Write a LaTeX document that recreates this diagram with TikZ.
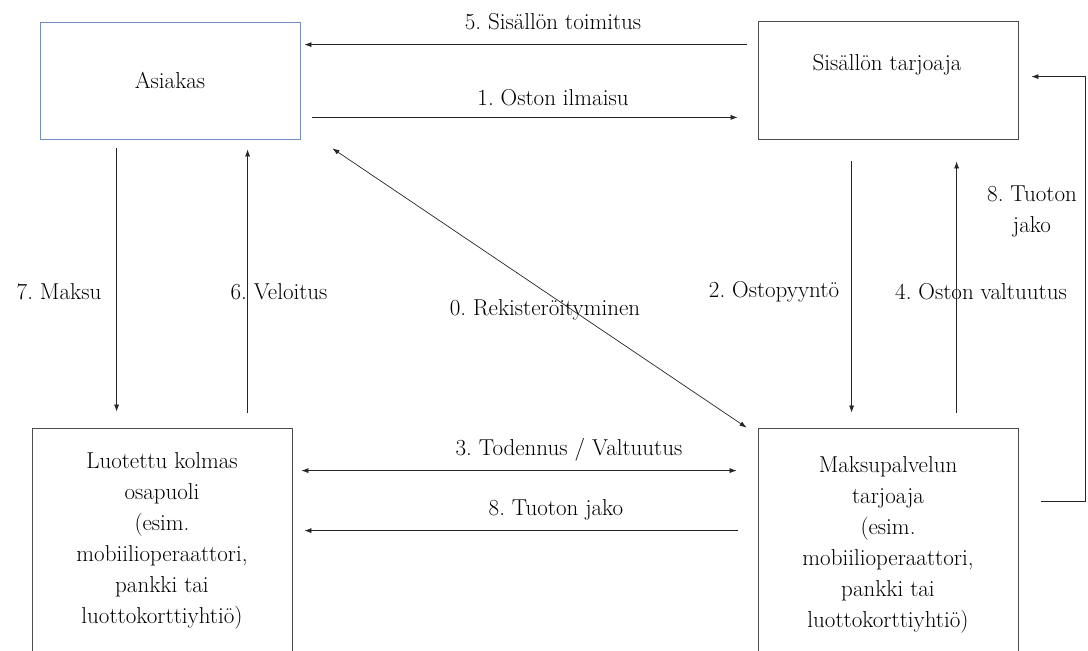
\documentclass[tikz,border=0pt]{standalone}
\usetikzlibrary{arrows.meta}
\definecolor{asiakasblue}{RGB}{112,142,196}
\frenchspacing
\begin{document}
\begin{tikzpicture}[>={Latex[length=7pt,width=5pt]}, x=1pt, y=-1pt, font=\fontsize{23}{31}\selectfont,
	laatikko/.style={draw=black!70, line width=0.8pt, minimum width=260pt, inner sep=0pt, align=center},
	nuoli/.style={draw=black!85, line width=0.7pt}]
		\useasboundingbox (0,0) rectangle (1088,651);
		\clip (0,0) rectangle (1088,651);
		% laatikot
		\node[laatikko, draw=asiakasblue, minimum height=117pt] (asiakas) at (170,80.5) {Asiakas};
		\node[laatikko, minimum height=118pt] (tarjoaja) at (888,80) {};
		\node (tarjoajateksti) at (887,65) {Sisällön tarjoaja};
		\node[laatikko, minimum height=226pt] (kolmas) at (162,541) {Luotettu kolmas\\osapuoli\\(esim.\\mobiilioperaattori,\\pankki tai\\luottokorttiyhtiö)};
		\node[laatikko, minimum height=234pt] (maksu) at (888,545) {Maksupalvelun\\tarjoaja\\(esim.\\mobiilioperaattori,\\pankki tai\\luottokorttiyhtiö)};
		% nuolet
		\draw[nuoli,->] ([shift={(-11,24)}]tarjoaja.north west) -- ([shift={(4,23)}]asiakas.north east);
		\draw[nuoli,->] ([shift={(12,-22)}]asiakas.south east) -- ([shift={(-20,-22)}]tarjoaja.south west);
		\draw[nuoli,<->] ([shift={(32,9)}]asiakas.south east) -- ([shift={(-11,0)}]maksu.north west);
		\draw[nuoli,->] ([shift={(77,9)}]asiakas.south west) -- ([shift={(85,-16)}]kolmas.north west);
		\draw[nuoli,->] ([shift={(216,-15)}]kolmas.north west) -- ([shift={(208,10)}]asiakas.south west);
		\draw[nuoli,->] ([shift={(94,22)}]tarjoaja.south west) -- ([shift={(94,-15)}]maksu.north west);
		\draw[nuoli,->] ([shift={(199,-15)}]maksu.north west) -- ([shift={(199,22)}]tarjoaja.south west);
		\draw[nuoli,->] ([shift={(23,74)}]maksu.north east) -- ++(44,0) |- ([shift={(13,56)}]tarjoaja.north east);
		\draw[nuoli,<->] ([shift={(9,43)}]kolmas.north east) -- ([shift={(-21,43)}]maksu.north west);
		\draw[nuoli,->] ([shift={(-20,103)}]maksu.north west) -- ([shift={(12,103)}]kolmas.north east);
		% tekstit
		\node (t5) at (553,22) {5. Sisällön toimitus};
		\node (t1) at (553,98) {1. Oston ilmaisu};
		\node (t0) at (545,310) {0. Rekisteröityminen};
		\node (t7) at (59,292) {7. Maksu};
		\node (t6) at (279,292) {6. Veloitus};
		\node (t2) at (774,292) {2. Ostopyyntö};
		\node (t4) at (981,292) {4. Oston valtuutus};
		\node[align=center] (t8a) at (1032,212) {8. Tuoton\\jako};
		\node (t3) at (569,450) {3. Todennus / Valtuutus};
		\node (t8b) at (556,510) {8. Tuoton jako};
\end{tikzpicture}
\end{document}
